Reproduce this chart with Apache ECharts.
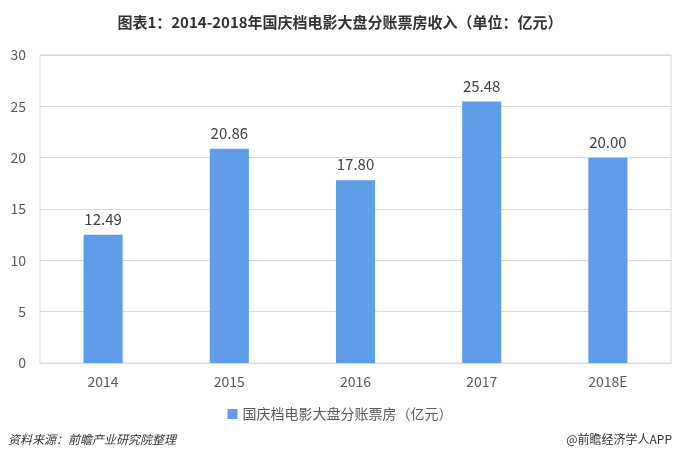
<!DOCTYPE html>
<html><head><meta charset="utf-8">
<script src="https://cdn.jsdelivr.net/npm/echarts@6/dist/echarts.min.js"></script>
<style>html,body{margin:0;padding:0;background:#fff}#c{width:680px;height:466px}</style>
</head><body><div id="c"></div>
<script>
const categories = ['2014','2015','2016','2017','2018E'];
const values = [12.49, 20.86, 17.80, 25.48, 20.00];
const seriesName = '国庆档电影大盘分账票房（亿元）';
const yTicks = [0,5,10,15,20,25,30];

const chart = echarts.init(document.getElementById('c'));
chart.setOption({
  animation:false,
  backgroundColor:'#fff',
  title:{text:'图表1：2014-2018年国庆档电影大盘分账票房收入（单位：亿元）',left:'center',top:10,
    textStyle:{fontFamily:'Noto Sans CJK SC',fontSize:15,fontWeight:'bold',color:'#333'}},
  grid:{left:40,right:9,top:55,bottom:103,show:true,borderColor:'#d9d9d9',borderWidth:1},
  legend:{bottom:40,left:'center',itemWidth:10,itemHeight:10,icon:'rect',itemGap:4,
    textStyle:{fontFamily:'Noto Sans CJK SC',fontSize:14,color:'#595959'}},
  xAxis:{type:'category',data:categories,
    axisLine:{lineStyle:{color:'#d9d9d9'}},axisTick:{show:false},
    axisLabel:{fontFamily:'Noto Sans CJK SC',fontSize:14,color:'#595959',margin:12}},
  yAxis:{type:'value',min:yTicks[0],max:yTicks[yTicks.length-1],interval:5,
    axisLine:{show:false},axisTick:{show:false},
    splitLine:{lineStyle:{color:'#d9d9d9'}},
    axisLabel:{fontFamily:'Noto Sans CJK SC',fontSize:14,color:'#595959',margin:14}},
  series:[{name:seriesName,type:'bar',data:values,barWidth:'31%',
    itemStyle:{color:'#5f9de8'},
    label:{show:true,position:'top',distance:8,fontFamily:'Noto Sans CJK SC',fontSize:15,color:'#404040',
      formatter:p=>p.value.toFixed(2)}}],
  graphic:[
    {type:'text',left:8,top:433,style:{text:'资料来源：前瞻产业研究院整理',font:'italic 12px "Noto Sans CJK SC"',fill:'#333'}},
    {type:'text',right:8,top:433,style:{text:'@前瞻经济学人APP',font:'12px "Noto Sans CJK SC"',fill:'#333'}}
  ]
});
</script></body></html>
